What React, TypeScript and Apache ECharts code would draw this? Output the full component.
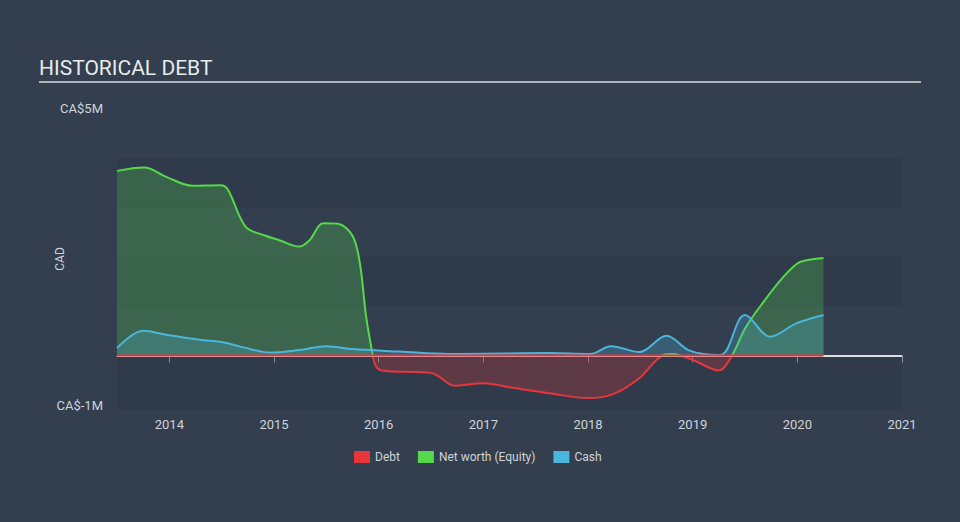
import React, { useEffect, useRef } from "react";
import * as echarts from "echarts";

const xTicks = [2014, 2015, 2016, 2017, 2018, 2019, 2020, 2021];
const yLabelValues = [-1e6, 5e6];

const debtData: [number, number][] = [
  [2013.5, 0],
  [2020.25, 0],
];

const netWorthData: [number, number][] = [
  [2013.5, 3.73e6],
  [2013.76, 3.8e6],
  [2013.97, 3.61e6],
  [2014.22, 3.43e6],
  [2014.49, 3.44e6],
  [2014.56, 3.35e6],
  [2014.73, 2.6e6],
  [2014.92, 2.42e6],
  [2015.05, 2.33e6],
  [2015.24, 2.2e6],
  [2015.34, 2.33e6],
  [2015.47, 2.67e6],
  [2015.61, 2.66e6],
  [2015.75, 2.42e6],
  [2015.82, 1.87e6],
  [2015.88, 0.79e6],
  [2015.94, 0.05e6],
  [2015.97, -0.2e6],
  [2016.03, -0.3e6],
  [2016.5, -0.35e6],
  [2016.58, -0.43e6],
  [2016.72, -0.61e6],
  [2017.0, -0.56e6],
  [2017.25, -0.64e6],
  [2017.63, -0.76e6],
  [2018.0, -0.86e6],
  [2018.24, -0.78e6],
  [2018.49, -0.46e6],
  [2018.72, 0.01e6],
  [2018.81, 0.03e6],
  [2019.0, -0.09e6],
  [2019.25, -0.3e6],
  [2019.37, -0.02e6],
  [2019.51, 0.58e6],
  [2019.69, 1.12e6],
  [2019.85, 1.55e6],
  [2020.0, 1.86e6],
  [2020.1, 1.93e6],
  [2020.25, 1.97e6],
];

const cashData: [number, number][] = [
  [2013.5, 0.15e6],
  [2013.75, 0.5e6],
  [2013.97, 0.42e6],
  [2014.29, 0.32e6],
  [2014.51, 0.27e6],
  [2014.7, 0.17e6],
  [2014.96, 0.06e6],
  [2015.24, 0.11e6],
  [2015.5, 0.19e6],
  [2015.75, 0.13e6],
  [2016.2, 0.08e6],
  [2016.68, 0.03e6],
  [2017.63, 0.05e6],
  [2018.02, 0.03e6],
  [2018.22, 0.19e6],
  [2018.49, 0.07e6],
  [2018.75, 0.4e6],
  [2018.97, 0.1e6],
  [2019.26, 0.01e6],
  [2019.5, 0.82e6],
  [2019.74, 0.38e6],
  [2019.99, 0.65e6],
  [2020.25, 0.82e6],
];

const bandRanges: [number, number][] = [
  [-1.1e6, 0],
  [1e6, 2e6],
  [3e6, 4e6],
];

const RED = "#e8353b";
const GREEN = "#55d94a";
const BLUE = "#4bb6dc";
const TEXT = "#cfd3d8";

export default function App() {
  const ref = useRef<HTMLDivElement>(null);
  useEffect(() => {
    if (!ref.current) return;
    const chart = echarts.init(ref.current, undefined, { renderer: "svg" });
    chart.setOption({
      animation: false,
      backgroundColor: "#333f4f",
      textStyle: { fontFamily: "Roboto" },
      graphic: [
        {
          type: "text",
          left: 39,
          top: 57,
          style: {
            text: "HISTORICAL DEBT",
            fill: "#e8eaec",
            font: "21px Roboto",
          },
        },
        {
          type: "line",
          shape: { x1: 39, y1: 82, x2: 921, y2: 82 },
          style: { stroke: "#b0b4ba", lineWidth: 2 },
        },
      ],
      legend: {
        top: 446,
        left: 349,
        itemWidth: 16,
        itemHeight: 12,
        itemGap: 18,
        icon: "rect",
        textStyle: { color: TEXT, fontSize: 12 },
        data: [
          { name: "Debt", itemStyle: { color: RED } },
          { name: "Net worth (Equity)", itemStyle: { color: GREEN } },
          { name: "Cash", itemStyle: { color: BLUE } },
        ],
      },
      grid: { left: 117, right: 58, top: 108, bottom: 112 },
      xAxis: {
        type: "value",
        min: 2013.5,
        max: 2021,
        axisLine: { show: true, lineStyle: { color: "#8d97a5", width: 1.5 } },
        axisTick: {
          show: true,
          length: 7,
          lineStyle: { color: "#8d97a5" },
          customValues: xTicks,
        },
        axisLabel: {
          color: TEXT,
          fontSize: 13,
          margin: 8,
          customValues: xTicks,
          formatter: (v: number) => String(Math.round(v)),
        },
        splitLine: { show: false },
      },
      yAxis: {
        type: "value",
        min: -1.1e6,
        max: 5e6,
        name: "CAD",
        nameLocation: "middle",
        nameRotate: 90,
        nameGap: 51,
        nameMoveOverlap: false,
        nameTextStyle: { color: TEXT, fontSize: 12 },
        axisLine: { show: false },
        axisTick: { show: false },
        splitLine: { show: false },
        axisLabel: {
          color: TEXT,
          fontSize: 13,
          margin: 14,
          customValues: yLabelValues,
          formatter: (v: number) => "CA$" + Math.round(v / 1e6) + "M",
        },
      },
      visualMap: {
        type: "piecewise",
        show: false,
        seriesIndex: 0,
        dimension: 1,
        pieces: [
          { min: -100e6, max: 0, color: RED },
          { min: 0, max: 100e6, color: GREEN },
        ],
      },
      series: [
        {
          name: "Net worth (Equity)",
          type: "line",
          data: netWorthData,
          smooth: 0.35,
          showSymbol: false,
          symbol: "none",
          z: 2,
          itemStyle: { color: GREEN },
          lineStyle: { width: 2 },
          areaStyle: { opacity: 0.25 },
          markArea: {
            silent: true,
            itemStyle: { color: "rgba(10,20,32,0.09)" },
            data: bandRanges.map(([a, b]) => [
              { xAxis: 2013.5, yAxis: a },
              { xAxis: 2021, yAxis: b },
            ]),
          },
        },
        {
          name: "Cash",
          type: "line",
          data: cashData,
          smooth: 0.35,
          showSymbol: false,
          symbol: "none",
          z: 3,
          itemStyle: { color: BLUE },
          lineStyle: { width: 2, color: BLUE },
          areaStyle: { color: BLUE, opacity: 0.25 },
          markLine: {
            silent: true,
            symbol: "none",
            label: { show: false },
            lineStyle: { color: "#ffffff", width: 1.5, type: "solid" },
            data: [{ yAxis: 0 }],
          },
        },
        {
          name: "Debt",
          type: "line",
          data: debtData,
          showSymbol: false,
          symbol: "none",
          z: 5,
          itemStyle: { color: RED },
          lineStyle: { width: 2, color: RED },
        },
      ],
    });
    return () => chart.dispose();
  }, []);
  return (
    <div
      ref={ref}
      style={{ position: "fixed", left: 0, top: 0, width: 960, height: 522 }}
    />
  );
}
